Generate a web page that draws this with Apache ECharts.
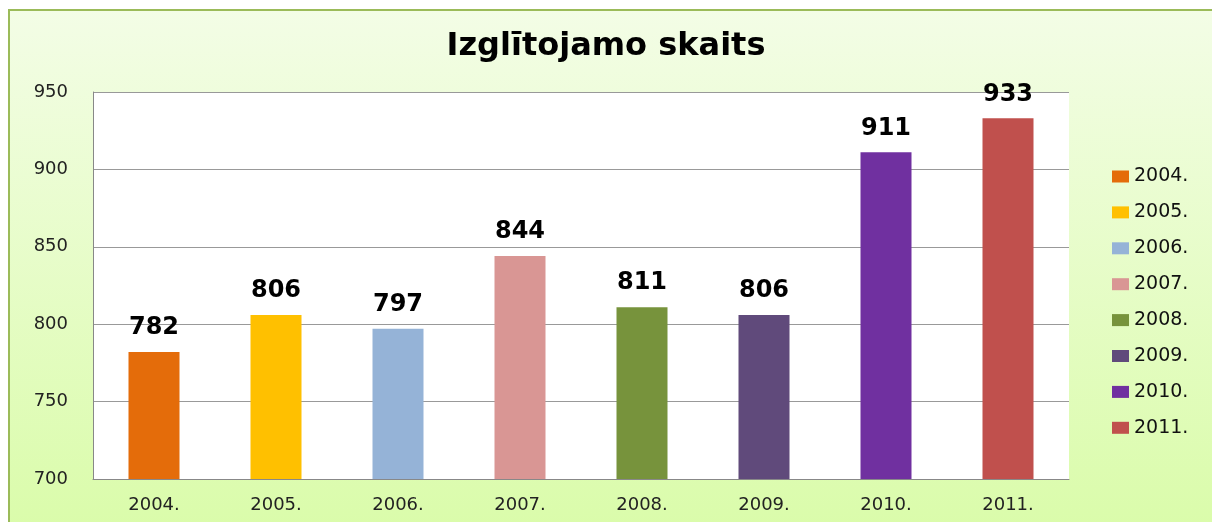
<!DOCTYPE html>
<html>
<head>
<meta charset="utf-8">
<script src="https://cdn.jsdelivr.net/npm/echarts@6/dist/echarts.min.js"></script>
<style>
html,body{margin:0;padding:0;background:#fff;}
#c{width:1212px;height:522px;}
</style>
</head>
<body>
<div id="c"></div>
<script>
const titleText = 'Izglītojamo skaits';
const categories = ['2004.', '2005.', '2006.', '2007.', '2008.', '2009.', '2010.', '2011.'];
const values = [782, 806, 797, 844, 811, 806, 911, 933];
const colors = ['#e46c0a', '#ffc000', '#95b3d7', '#d99694', '#77933c', '#604a7b', '#7030a0', '#c0504d'];
const yTicks = { min: 700, max: 950, interval: 50 };

const font = 'DejaVu Sans, Verdana, sans-serif';
const chart = echarts.init(document.getElementById('c'));

const series = categories.map((name, i) => ({
  name: name,
  type: 'bar',
  stack: 'all',
  barWidth: 51,
  itemStyle: { color: colors[i] },
  label: {
    show: true, position: 'top', distance: 12,
    fontFamily: font, fontSize: 24, fontWeight: 'bold', color: '#000',
    formatter: p => p.value == null ? '' : String(p.value)
  },
  data: categories.map((c, j) => j === i ? values[i] : null)
}));

chart.setOption({
  animation: false,
  backgroundColor: 'transparent',
  graphic: [{
    type: 'rect', z: -10, silent: true,
    shape: { x: 9, y: 10, width: 1215, height: 520 },
    style: {
      fill: new echarts.graphic.LinearGradient(0, 0, 0, 1, [
        { offset: 0, color: '#f3fde6' },
        { offset: 1, color: '#dafcaa' }
      ]),
      stroke: '#9bbb59', lineWidth: 2
    }
  }],
  title: {
    text: titleText, left: 'center', top: 26,
    textStyle: { fontFamily: font, fontSize: 32, fontWeight: 'bold', color: '#000' }
  },
  legend: {
    orient: 'vertical', left: 1107, top: 162,
    itemWidth: 17, itemHeight: 12, itemGap: 16.9, itemTextGap: 6,
    icon: 'rect',
    textStyle: { fontFamily: font, fontSize: 19, color: '#111' },
    data: categories
  },
  grid: {
    left: 93, top: 92, right: 143, bottom: 43,
    show: true, backgroundColor: '#fff', borderWidth: 0
  },
  xAxis: {
    type: 'category', data: categories,
    axisLine: { lineStyle: { color: '#888', width: 1 } },
    axisTick: { show: false },
    axisLabel: { fontFamily: font, fontSize: 18, color: '#222', margin: 17 }
  },
  yAxis: {
    type: 'value', min: yTicks.min, max: yTicks.max, interval: yTicks.interval,
    axisLine: { show: true, lineStyle: { color: '#888', width: 1 } },
    axisTick: { show: false },
    splitLine: { lineStyle: { color: '#999', width: 1 } },
    axisLabel: { fontFamily: font, fontSize: 18, color: '#222', margin: 25 }
  },
  series: series
});
</script>
</body>
</html>
